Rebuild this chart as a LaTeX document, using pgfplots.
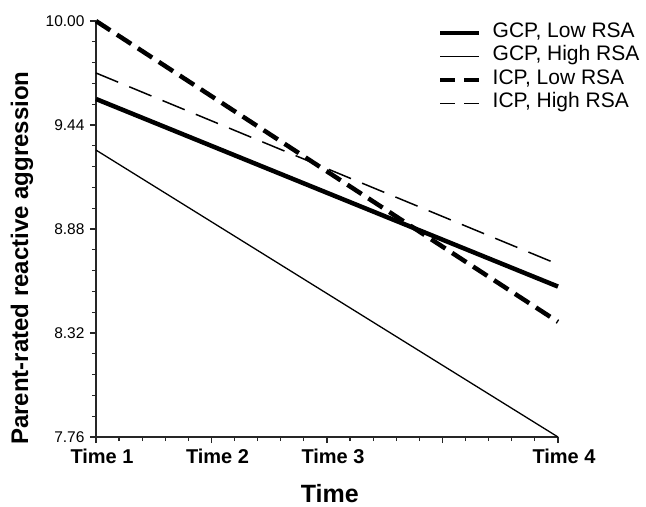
\documentclass[border=0pt]{standalone}
\usepackage{fontspec}
\setmainfont{Liberation Sans}
\usepackage{pgfplots}
\pgfplotsset{compat=1.18}
\begin{document}
\begin{tikzpicture}
\begin{axis}[
  scale only axis,
  width=462bp, height=416bp,
  xmin=0, xmax=4, ymin=7.76, ymax=10.00,
  axis lines=left,
  axis line style={line width=1.4bp, color=black!85, -},
  clip=false,
  xtick={0,1,2,3,4},
  xticklabels={Time 1,Time 2,Time 3,,Time 4},
  ytick={7.76,8.32,8.88,9.44,10.00},
  yticklabels={7.76,8.32,8.88,9.44,10.00},
  minor x tick num=4,
  minor y tick num=4,
  tick align=outside,
  major tick length=6bp,
  minor tick length=4bp,
  every tick/.style={line width=1.2bp, color=black!85},
  xticklabel style={font=\fontsize{20bp}{24bp}\selectfont\bfseries, yshift=-2bp, xshift=6bp},
  yticklabel style={font=\fontsize{15.5bp}{19bp}\selectfont, xshift=-2bp},
  xlabel={Time},
  ylabel={Parent-rated reactive aggression},
  every axis x label/.style={at={(axis description cs:0.506,-0.135)}, anchor=center, font=\fontsize{25bp}{30bp}\selectfont\bfseries},
  every axis y label/.style={at={(axis description cs:-0.16,0.43)}, anchor=center, rotate=90, font=\fontsize{24bp}{29bp}\selectfont\bfseries},
  legend style={at={(axis description cs:0.7403,1.0)}, anchor=north west, draw=none, fill=none,
    inner sep=0bp,
    font=\fontsize{21bp}{23.5bp}\selectfont, row sep=0bp,
    nodes={inner sep=0bp, text height=16bp, text depth=7.5bp},
    /tikz/every odd column/.append style={column sep=11bp}},
  legend cell align=left,
  legend image code/.code={\draw[#1] (0bp,0bp) -- (39bp,0bp);},
]
\addplot[black, line width=4.5bp] coordinates {(0,9.58) (4,8.57)};
\addlegendentry{GCP, Low RSA}
\addplot[black, line width=1.3bp] coordinates {(0,9.305) (4,7.76)};
\addlegendentry{GCP, High RSA}
\addplot[black, line width=4.5bp, dash pattern=on 17bp off 8bp, legend image post style={dash pattern=on 15bp off 9bp}] coordinates {(0,10.00) (4,8.38)};
\addlegendentry{ICP, Low RSA}
\addplot[black, line width=1.5bp, dash pattern=on 24bp off 12bp, legend image post style={dash pattern=on 15bp off 9bp}] coordinates {(0,9.72) (4,8.69)};
\addlegendentry{ICP, High RSA}
\end{axis}
\pgfresetboundingbox
\useasboundingbox (-96bp,-70bp) rectangle (550bp,437bp);
\end{tikzpicture}
\end{document}
